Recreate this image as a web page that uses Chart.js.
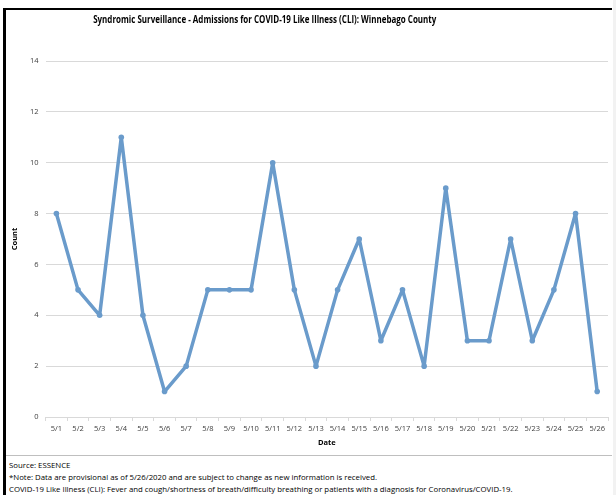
<!DOCTYPE html>
<html>
<head>
<meta charset="utf-8">
<script src="https://cdn.jsdelivr.net/npm/chart.js@4"></script>
<style>
  html, body { margin: 0; padding: 0; background: #fff; }
  body { width: 616px; height: 495px; position: relative; overflow: hidden; font-family: "Open Sans", sans-serif; }
  #frame {
    position: absolute; left: 3px; top: 8px; width: 609px; height: 490px;
    border-left: 3px solid #000; border-top: 2px solid #000; box-sizing: border-box;
  }
  #title {
    position: absolute; left: 0; top: 2px; width: 518px; text-align: center; white-space: nowrap;
    font-size: 10.5px; font-weight: bold; color: #000;
  }
  #title span { display: inline-block; transform: scaleX(0.76); transform-origin: center; }
  #chartBox { position: absolute; left: 0; top: 0; width: 606px; height: 445px; }
  #sep { position: absolute; left: 0; top: 445px; width: 606px; border-top: 1px solid #bfbfbf; }
  #notes { position: absolute; left: 3px; top: 449px; font-size: 7.8px; line-height: 12px; color: #000; white-space: nowrap; }
  #edge { position: absolute; left: 613px; top: 0; width: 3px; height: 495px; background: #f2f2f2; }
</style>
</head>
<body>
<div id="edge"></div>
<div id="frame">
  <div id="chartBox"><canvas id="cliChart"></canvas></div>
  <div id="title"><span>Syndromic Surveillance - Admissions for COVID-19 Like Illness (CLI): Winnebago County</span></div>
  <div id="sep"></div>
  <div id="notes">
    Source: ESSENCE<br>
    *Note: Data are provisional as of 5/26/2020 and are subject to change as new information is received.<br>
    COVID-19 Like Illness (CLI): Fever and cough/shortness of breath/difficulty breathing or patients with a diagnosis for Coronavirus/COVID-19.
  </div>
</div>
<script>
const dates = ["5/1", "5/2", "5/3", "5/4", "5/5", "5/6", "5/7", "5/8", "5/9", "5/10", "5/11", "5/12", "5/13",
               "5/14", "5/15", "5/16", "5/17", "5/18", "5/19", "5/20", "5/21", "5/22", "5/23", "5/24", "5/25", "5/26"];
const admissions = [8, 5, 4, 11, 4, 1, 2, 5, 5, 5, 10, 5, 2, 5, 7, 3, 5, 2, 9, 3, 3, 7, 3, 5, 8, 1];
const yTicks = [0, 2, 4, 6, 8, 10, 12, 14];

const lineColor = "#6a9bcb";
const fontFamily = "'Open Sans', sans-serif";

const ctx = document.getElementById("cliChart").getContext("2d");
new Chart(ctx, {
    type: "line",
    data: {
        labels: dates,
        datasets: [{
            label: "Count",
            data: admissions,
            borderColor: lineColor,
            backgroundColor: lineColor,
            borderWidth: 3.5,
            borderJoinStyle: "round",
            borderCapStyle: "round",
            pointRadius: 2.8,
            pointBorderWidth: 0,
            tension: 0,
        }],
    },
    options: {
        responsive: true,
        maintainAspectRatio: false,
        animation: false,
        layout: { padding: { top: 51, right: 0, bottom: 8, left: 0 } },
        plugins: {
            legend: { display: false },
            tooltip: { enabled: false },
            title: { display: false },
        },
        scales: {
            x: {
                offset: true,
                grid: {
                    display: true,
                    drawOnChartArea: false,
                    drawTicks: true,
                    tickLength: 4,
                    color: "#d9d9d9",
                    offset: true,
                },
                border: { display: true, color: "#d9d9d9" },
                ticks: {
                    color: "#404040",
                    font: { family: fontFamily, size: 7.5 },
                    maxRotation: 0,
                    autoSkip: false,
                    padding: 3,
                },
                title: {
                    display: true,
                    text: "Date",
                    color: "#000",
                    font: { family: fontFamily, size: 7.5, weight: "bold" },
                    padding: { top: 2, bottom: 0 },
                },
            },
            y: {
                min: 0,
                max: 14,
                afterBuildTicks: (axis) => { axis.ticks = yTicks.map(v => ({ value: v })); },
                grid: { color: "#d9d9d9", drawTicks: false },
                border: { display: false },
                ticks: {
                    color: "#404040",
                    font: { family: fontFamily, size: 7.5 },
                    padding: 7,
                },
                title: {
                    display: true,
                    text: "Count",
                    color: "#000",
                    font: { family: fontFamily, size: 7.5, weight: "bold" },
                    padding: { top: 4, bottom: 4 },
                },
            },
        },
    },
});
</script>
</body>
</html>
